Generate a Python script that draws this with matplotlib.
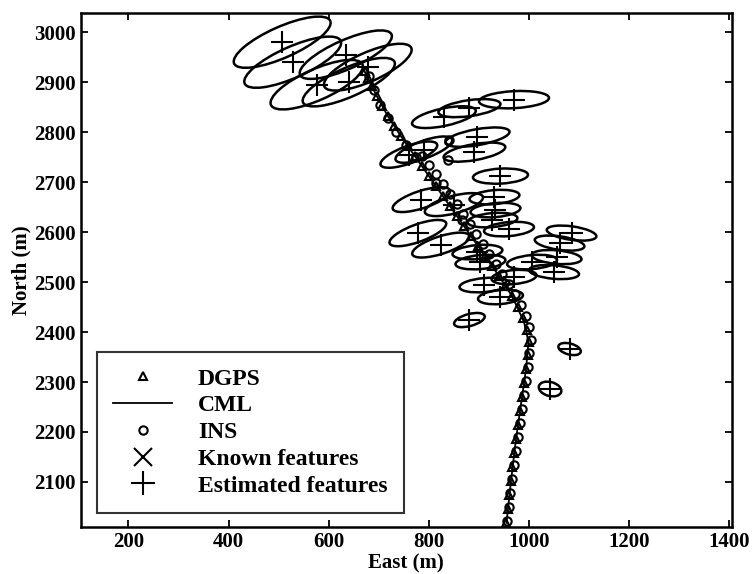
import numpy as np
import matplotlib.pyplot as plt
from matplotlib.patches import Ellipse
from matplotlib.lines import Line2D

plt.rcParams['font.family'] = ['Liberation Serif', 'DejaVu Serif']
plt.rcParams['font.weight'] = 'bold'
plt.rcParams['axes.labelweight'] = 'bold'

# --- DGPS track (East, North) ---
dgps_e = [955, 958, 961, 964, 967, 970, 974, 978, 982, 986, 990, 994, 997, 999,
          995, 988, 978, 966, 953, 940, 926, 912, 898, 884, 870, 856, 842, 828,
          814, 800, 786, 772, 758, 744, 730, 718, 706, 696, 686, 678, 672]
dgps_n = [2018, 2046, 2074, 2102, 2130, 2158, 2186, 2214, 2242, 2270, 2298, 2326,
          2354, 2380, 2405, 2428, 2450, 2472, 2492, 2512, 2532, 2552, 2572, 2592,
          2612, 2632, 2652, 2672, 2692, 2712, 2732, 2752, 2772, 2792, 2812, 2832,
          2852, 2872, 2892, 2908, 2922]

# --- INS track ---
ins_e = [957, 960, 963, 966, 969, 973, 977, 981, 985, 989, 993, 997, 1000, 1003,
         1000, 993, 983, 972, 960, 947, 934, 921, 908, 895, 882, 869, 856, 843,
         829, 814, 800, 786, 774, 755, 735, 718, 703, 690, 680, 841, 838, 814, 867]
ins_n = [2022, 2050, 2078, 2106, 2134, 2162, 2190, 2218, 2246, 2274, 2302, 2330,
         2358, 2385, 2410, 2433, 2455, 2477, 2497, 2517, 2537, 2557, 2577, 2597,
         2617, 2637, 2657, 2677, 2697, 2717, 2735, 2752, 2750, 2774, 2800, 2828,
         2854, 2884, 2912, 2784, 2744, 2698, 2624]

# --- CML track ---
cml_e = [955, 964, 974, 986, 994, 999, 990, 966, 940, 912, 884, 856, 828, 800,
         772, 744, 718, 696, 678, 670]
cml_n = [2018, 2102, 2186, 2270, 2326, 2380, 2420, 2472, 2512, 2552, 2592, 2632,
         2672, 2712, 2752, 2792, 2832, 2872, 2908, 2925]

# --- Estimated features and their uncertainty ellipses ---
feat_e = [507, 528, 634, 576, 640, 678,
          970, 881, 830, 897, 891, 790, 760, 943,
          785, 850, 931, 933, 927, 960, 778, 824,
          897, 903, 911, 943, 1006, 970,
          1085, 1061, 1055, 1050,
          881, 1081, 1042]
feat_n = [2980, 2940, 2955, 2895, 2900, 2930,
          2865, 2848, 2830, 2790, 2760, 2765, 2755, 2712,
          2665, 2655, 2670, 2644, 2624, 2606, 2598, 2574,
          2560, 2540, 2494, 2470, 2540, 2510,
          2598, 2578, 2550, 2520,
          2424, 2366, 2286]
ell_w = [210, 210, 200, 200, 200, 190,
         140, 125, 130, 130, 125, 120, 120, 110,
         120, 120, 100, 100, 100, 100, 120, 120,
         100, 100, 100, 90, 100, 90,
         100, 100, 100, 100,
         63, 46, 46]
ell_h = [62, 62, 58, 62, 58, 58,
         34, 32, 35, 32, 32, 35, 35, 30,
         35, 35, 28, 28, 28, 28, 35, 35,
         28, 28, 28, 28, 28, 28,
         27, 27, 27, 27,
         24, 22, 28]
ell_ang = [24, 24, 24, 24, 24, 24,
           3, 8, 12, 10, 10, 20, 20, 3,
           18, 15, 5, 5, 5, 5, 20, 18,
           5, 5, 5, 5, 5, 5,
           -8, -8, -5, -5,
           15, -15, -15]

fig = plt.figure(figsize=(7.56, 5.74), dpi=100)
ax = fig.add_axes([0.107, 0.082, 0.861, 0.895])

for e, n, w, h, a in zip(feat_e, feat_n, ell_w, ell_h, ell_ang):
    ax.add_patch(Ellipse((e, n), w, h, angle=a, fill=False, ec='black', lw=1.8))

ax.plot(cml_e, cml_n, '-', color='black', lw=1.3)
ax.plot(dgps_e, dgps_n, '^', ms=6, mfc='none', mec='black', mew=1.5)
ax.plot(ins_e, ins_n, 'o', ms=6, mfc='none', mec='black', mew=1.5)
ax.plot(feat_e, feat_n, '+', ms=16, mec='black', mew=1.5)

ax.set_xlim(105, 1405)
ax.set_ylim(2010, 3038)
ax.set_xticks([200, 400, 600, 800, 1000, 1200, 1400])
ax.set_yticks(range(2100, 3001, 100))
ax.tick_params(direction='in', length=5, width=1.3, labelsize=15, top=True, right=True)
for s in ax.spines.values():
    s.set_linewidth(1.8)
ax.set_xlabel('East (m)', fontsize=15, labelpad=1)
ax.set_ylabel('North (m)', fontsize=15, labelpad=2)

handles = [
    Line2D([], [], ls='none', marker='^', ms=6, mfc='none', mec='black', mew=1.5),
    Line2D([], [], ls='-', color='black', lw=1.3),
    Line2D([], [], ls='none', marker='o', ms=6, mfc='none', mec='black', mew=1.5),
    Line2D([], [], ls='none', marker='x', ms=13, mec='black', mew=1.5),
    Line2D([], [], ls='none', marker='+', ms=17, mec='black', mew=1.5),
]
labels = ['DGPS', 'CML', 'INS', 'Known features', 'Estimated features']
leg = ax.legend(handles, labels, loc='lower left', bbox_to_anchor=(0.024, 0.027),
                fontsize=17, frameon=True, fancybox=False, edgecolor='black',
                handlelength=2.5, handletextpad=1.1, labelspacing=0.22,
                borderpad=0.7, borderaxespad=0)
leg.get_frame().set_linewidth(1.5)

fig.savefig('out.png', dpi=100)
